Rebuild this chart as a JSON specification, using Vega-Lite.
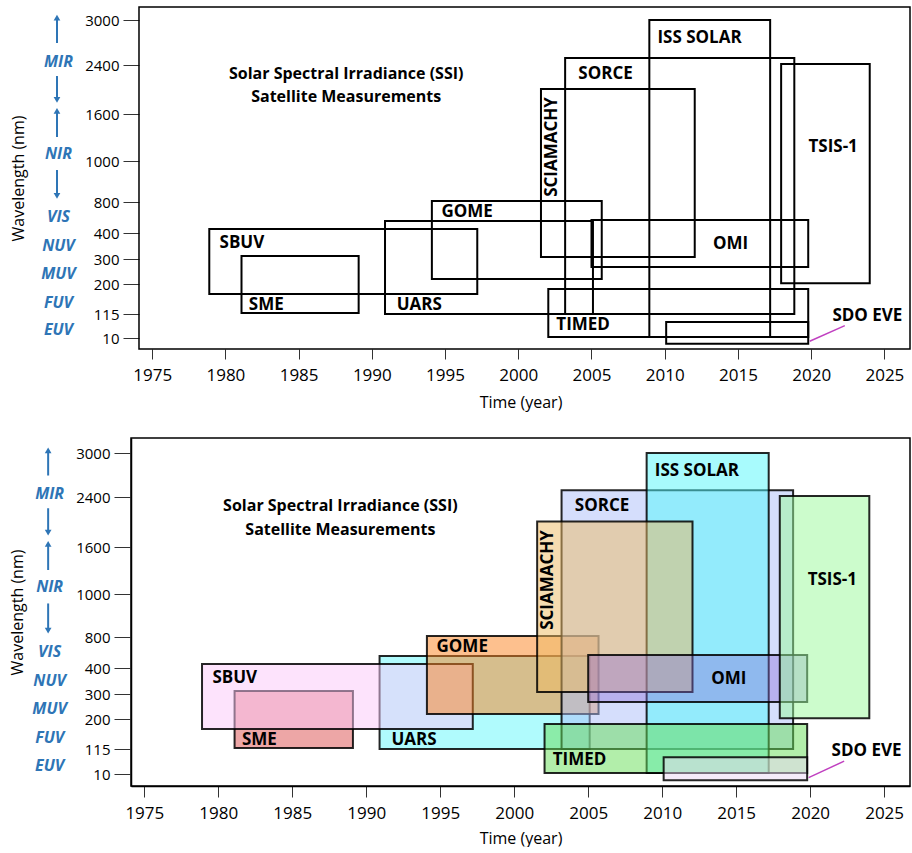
{
  "$schema": "https://vega.github.io/schema/vega-lite/v6.json",
  "padding": {"left": 8, "top": 6, "right": 0, "bottom": 0},
  "config": {
    "view": {"stroke": "black", "strokeWidth": 1.5},
    "font": "Open Sans",
    "axis": {"grid": false, "domainColor": "black", "domainWidth": 1.5, "tickColor": "#333", "labelColor": "black", "titleColor": "black", "titleFontWeight": "normal", "labelFont": "Open Sans", "titleFont": "Open Sans", "labelOverlap": false, "labelFlush": false, "tickCount": 30}
  },
  "datasets": {
    "rects": [
      {"name": "UARS", "start": 1990.9, "end": 2005.1, "lo": 115, "hi": 555},
      {"name": "SME", "start": 1981.1, "end": 1989.1, "lo": 118, "hi": 312},
      {"name": "SBUV", "start": 1978.9, "end": 1997.2, "lo": 172, "hi": 451},
      {"name": "GOME", "start": 1994.1, "end": 2005.7, "lo": 220, "hi": 805},
      {"name": "SORCE", "start": 2003.2, "end": 2018.85, "lo": 115, "hi": 2493},
      {"name": "ISS SOLAR", "start": 2008.95, "end": 2017.2, "lo": 14, "hi": 3000},
      {"name": "SCIAMACHY", "start": 2001.55, "end": 2012.05, "lo": 308, "hi": 2008},
      {"name": "TIMED", "start": 2002.05, "end": 2019.8, "lo": 14, "hi": 186},
      {"name": "OMI", "start": 2005.0, "end": 2019.8, "lo": 268, "hi": 568},
      {"name": "TSIS-1", "start": 2017.95, "end": 2024.0, "lo": 203, "hi": 2413},
      {"name": "SDO EVE", "start": 2010.1, "end": 2019.8, "lo": -16, "hi": 80}
    ],
    "labelsLeft": [
      {"label": "SBUV", "year": 1979.6, "nm": 362},
      {"label": "SME", "year": 1981.6, "nm": 140},
      {"label": "UARS", "year": 1991.7, "nm": 140},
      {"label": "GOME", "year": 1994.75, "nm": 671},
      {"label": "SORCE", "year": 2004.1, "nm": 2253},
      {"label": "ISS SOLAR", "year": 2009.5, "nm": 2760},
      {"label": "TIMED", "year": 2002.6, "nm": 67},
      {"label": "SDO EVE", "year": 2021.45, "nm": 106}
    ],
    "labelsCenter": [
      {"label": "OMI", "year": 2014.5, "nm": 358},
      {"label": "TSIS-1", "year": 2021.5, "nm": 1179}
    ],
    "labelsRot": [
      {"label": "SCIAMACHY", "year": 2002.3, "nm": 1179}
    ],
    "titles": [
      {"label": "Solar Spectral Irradiance (SSI)", "year": 1988.25, "nm": 2253},
      {"label": "Satellite Measurements", "year": 1988.25, "nm": 1878}
    ],
    "leader": [
      {"year": 2019.9, "year2": 2022.3, "nm": -5, "nm2": 64}
    ],
    "bands": [
      {"label": "MIR", "year": 1968.6, "nm": 2440},
      {"label": "NIR", "year": 1968.6, "nm": 1089},
      {"label": "VIS", "year": 1968.6, "nm": 606},
      {"label": "NUV", "year": 1968.6, "nm": 350},
      {"label": "MUV", "year": 1968.6, "nm": 240},
      {"label": "FUV", "year": 1968.6, "nm": 146},
      {"label": "EUV", "year": 1968.6, "nm": 45}
    ],
    "arrows": [
      {"year": 1968.5, "nm": 2693, "nm2": 3030},
      {"year": 1968.5, "nm": 2220, "nm2": 1830},
      {"year": 1968.5, "nm": 1306, "nm2": 1650},
      {"year": 1968.5, "nm": 956, "nm2": 830}
    ],
    "headsUp": [
      {"year": 1968.5, "nm": 3030},
      {"year": 1968.5, "nm": 1650}
    ],
    "headsDown": [
      {"year": 1968.5, "nm": 1830},
      {"year": 1968.5, "nm": 830}
    ]
  },
  "vconcat": [
    {
      "width": 779,
      "height": 342,
      "view": {"stroke": null},
      "layer": [
        {
          "data": {"name": "rects"},
          "mark": {"type": "rect", "fillOpacity": 0, "stroke": "black", "strokeWidth": 2},
          "encoding": {
            "x": {"field": "start", "type": "quantitative", "title": "Time (year)", "scale": {"domain": [1973.554, 2026.75], "nice": false, "zero": false},
              "axis": {"title": "Time (year)", "values": [1975, 1980, 1985, 1990, 1995, 2000, 2005, 2010, 2015, 2020, 2025], "format": "d", "domain": false, "tickCount": 30, "tickSize": 10, "labelPadding": 8, "labelFontSize": 17, "titleFontSize": 16, "titlePadding": 11}},
            "x2": {"field": "end"},
            "y": {"field": "lo", "type": "quantitative", "title": "Wavelength (nm)", "scale": {"domain": [-40, 10, 115, 200, 300, 400, 800, 1000, 1600, 2400, 3000, 3170], "range": [342, 331, 307, 277, 252, 226, 195, 154, 107, 58, 13, 0], "nice": false, "zero": false},
              "axis": {"title": "Wavelength (nm)", "values": [10, 115, 200, 300, 400, 800, 1000, 1600, 2400, 3000], "format": "d", "domain": false, "offset": -8, "tickCount": 30, "labelOverlap": false, "tickSize": 16, "labelPadding": 4, "labelFontSize": 15, "titleFontSize": 16, "titlePadding": 58}},
            "y2": {"field": "hi"}
          }
        },
        {
          "data": {"values": [{}]},
          "mark": {"type": "rect", "fillOpacity": 0, "stroke": "black", "strokeWidth": 1.5},
          "encoding": {
            "x": {"datum": 1974.1, "type": "quantitative", "title": "Time (year)", "scale": {"domain": [1973.554, 2026.75], "nice": false, "zero": false}},
            "x2": {"datum": 2026.75},
            "y": {"datum": -40, "type": "quantitative", "title": "Wavelength (nm)", "scale": {"domain": [-40, 10, 115, 200, 300, 400, 800, 1000, 1600, 2400, 3000, 3170], "range": [342, 331, 307, 277, 252, 226, 195, 154, 107, 58, 13, 0], "nice": false, "zero": false}},
            "y2": {"datum": 3170}
          }
        },
        {
          "data": {"name": "titles"},
          "mark": {"type": "text", "font": "Open Sans", "fontWeight": "bold", "fontSize": 16, "align": "center", "baseline": "middle"},
          "encoding": {
            "x": {"field": "year", "type": "quantitative", "title": "Time (year)", "scale": {"domain": [1973.554, 2026.75], "nice": false, "zero": false}},
            "y": {"field": "nm", "type": "quantitative", "title": "Wavelength (nm)", "scale": {"domain": [-40, 10, 115, 200, 300, 400, 800, 1000, 1600, 2400, 3000, 3170], "range": [342, 331, 307, 277, 252, 226, 195, 154, 107, 58, 13, 0], "nice": false, "zero": false}},
            "text": {"field": "label"}
          }
        },
        {
          "data": {"name": "labelsLeft"},
          "mark": {"type": "text", "font": "Open Sans", "fontWeight": "bold", "fontSize": 17, "align": "left", "baseline": "middle"},
          "encoding": {
            "x": {"field": "year", "type": "quantitative", "title": "Time (year)", "scale": {"domain": [1973.554, 2026.75], "nice": false, "zero": false}},
            "y": {"field": "nm", "type": "quantitative", "title": "Wavelength (nm)", "scale": {"domain": [-40, 10, 115, 200, 300, 400, 800, 1000, 1600, 2400, 3000, 3170], "range": [342, 331, 307, 277, 252, 226, 195, 154, 107, 58, 13, 0], "nice": false, "zero": false}},
            "text": {"field": "label"}
          }
        },
        {
          "data": {"name": "labelsCenter"},
          "mark": {"type": "text", "font": "Open Sans", "fontWeight": "bold", "fontSize": 17, "align": "center", "baseline": "middle"},
          "encoding": {
            "x": {"field": "year", "type": "quantitative", "title": "Time (year)", "scale": {"domain": [1973.554, 2026.75], "nice": false, "zero": false}},
            "y": {"field": "nm", "type": "quantitative", "title": "Wavelength (nm)", "scale": {"domain": [-40, 10, 115, 200, 300, 400, 800, 1000, 1600, 2400, 3000, 3170], "range": [342, 331, 307, 277, 252, 226, 195, 154, 107, 58, 13, 0], "nice": false, "zero": false}},
            "text": {"field": "label"}
          }
        },
        {
          "data": {"name": "labelsRot"},
          "mark": {"type": "text", "font": "Open Sans", "fontWeight": "bold", "fontSize": 17, "align": "center", "baseline": "middle", "angle": 270},
          "encoding": {
            "x": {"field": "year", "type": "quantitative", "title": "Time (year)", "scale": {"domain": [1973.554, 2026.75], "nice": false, "zero": false}},
            "y": {"field": "nm", "type": "quantitative", "title": "Wavelength (nm)", "scale": {"domain": [-40, 10, 115, 200, 300, 400, 800, 1000, 1600, 2400, 3000, 3170], "range": [342, 331, 307, 277, 252, 226, 195, 154, 107, 58, 13, 0], "nice": false, "zero": false}},
            "text": {"field": "label"}
          }
        },
        {
          "data": {"name": "leader"},
          "mark": {"type": "rule", "color": "#c040c0", "strokeWidth": 1.5},
          "encoding": {
            "x": {"field": "year", "type": "quantitative", "title": "Time (year)", "scale": {"domain": [1973.554, 2026.75], "nice": false, "zero": false}},
            "x2": {"field": "year2"},
            "y": {"field": "nm", "type": "quantitative", "title": "Wavelength (nm)", "scale": {"domain": [-40, 10, 115, 200, 300, 400, 800, 1000, 1600, 2400, 3000, 3170], "range": [342, 331, 307, 277, 252, 226, 195, 154, 107, 58, 13, 0], "nice": false, "zero": false}},
            "y2": {"field": "nm2"}
          }
        },
        {
          "data": {"name": "bands"},
          "mark": {"type": "text", "font": "Open Sans", "fontWeight": "bold", "fontStyle": "italic", "fontSize": 16, "align": "center", "baseline": "middle", "color": "#2e75b6"},
          "encoding": {
            "x": {"field": "year", "type": "quantitative", "title": "Time (year)", "scale": {"domain": [1973.554, 2026.75], "nice": false, "zero": false}},
            "y": {"field": "nm", "type": "quantitative", "title": "Wavelength (nm)", "scale": {"domain": [-40, 10, 115, 200, 300, 400, 800, 1000, 1600, 2400, 3000, 3170], "range": [342, 331, 307, 277, 252, 226, 195, 154, 107, 58, 13, 0], "nice": false, "zero": false}},
            "text": {"field": "label"}
          }
        },
        {
          "data": {"name": "arrows"},
          "mark": {"type": "rule", "color": "#2e75b6", "strokeWidth": 2},
          "encoding": {
            "x": {"field": "year", "type": "quantitative", "title": "Time (year)", "scale": {"domain": [1973.554, 2026.75], "nice": false, "zero": false}},
            "y": {"field": "nm", "type": "quantitative", "title": "Wavelength (nm)", "scale": {"domain": [-40, 10, 115, 200, 300, 400, 800, 1000, 1600, 2400, 3000, 3170], "range": [342, 331, 307, 277, 252, 226, 195, 154, 107, 58, 13, 0], "nice": false, "zero": false}},
            "y2": {"field": "nm2"}
          }
        },
        {
          "data": {"name": "headsUp"},
          "mark": {"type": "point", "shape": "triangle-up", "filled": true, "size": 45, "color": "#2e75b6", "opacity": 1},
          "encoding": {
            "x": {"field": "year", "type": "quantitative", "title": "Time (year)", "scale": {"domain": [1973.554, 2026.75], "nice": false, "zero": false}},
            "y": {"field": "nm", "type": "quantitative", "title": "Wavelength (nm)", "scale": {"domain": [-40, 10, 115, 200, 300, 400, 800, 1000, 1600, 2400, 3000, 3170], "range": [342, 331, 307, 277, 252, 226, 195, 154, 107, 58, 13, 0], "nice": false, "zero": false}}
          }
        },
        {
          "data": {"name": "headsDown"},
          "mark": {"type": "point", "shape": "triangle-down", "filled": true, "size": 45, "color": "#2e75b6", "opacity": 1},
          "encoding": {
            "x": {"field": "year", "type": "quantitative", "title": "Time (year)", "scale": {"domain": [1973.554, 2026.75], "nice": false, "zero": false}},
            "y": {"field": "nm", "type": "quantitative", "title": "Wavelength (nm)", "scale": {"domain": [-40, 10, 115, 200, 300, 400, 800, 1000, 1600, 2400, 3000, 3170], "range": [342, 331, 307, 277, 252, 226, 195, 154, 107, 58, 13, 0], "nice": false, "zero": false}}
          }
        }
      ]
    },
    {
      "width": 779,
      "height": 348,
      "layer": [
        {
          "data": {"name": "rects"},
          "mark": {"type": "rect", "stroke": "black", "strokeWidth": 2, "strokeOpacity": 0.85},
          "encoding": {
            "x": {"field": "start", "type": "quantitative", "title": "Time (year)", "scale": {"domain": [1974.1, 2026.75], "nice": false, "zero": false},
              "axis": {"title": "Time (year)", "values": [1975, 1980, 1985, 1990, 1995, 2000, 2005, 2010, 2015, 2020, 2025], "format": "d", "tickCount": 30, "tickSize": 11, "labelPadding": 8, "labelFontSize": 17, "titleFontSize": 16, "titlePadding": 9}},
            "x2": {"field": "end"},
            "y": {"field": "lo", "type": "quantitative", "title": "Wavelength (nm)", "scale": {"domain": [-40, 10, 115, 200, 300, 400, 800, 1000, 1600, 2400, 3000, 3170], "range": [348, 336, 311, 281, 256, 230, 199, 156, 109, 59, 15, 0], "nice": false, "zero": false},
              "axis": {"title": "Wavelength (nm)", "values": [10, 115, 200, 300, 400, 800, 1000, 1600, 2400, 3000], "format": "d", "tickCount": 30, "labelOverlap": false, "tickSize": 17, "labelPadding": 4, "labelFontSize": 15, "titleFontSize": 16, "titlePadding": 50}},
            "y2": {"field": "hi"},
            "color": {"field": "name", "type": "nominal", "legend": null,
              "scale": {"domain": ["UARS", "SME", "SBUV", "GOME", "SORCE", "ISS SOLAR", "SCIAMACHY", "TIMED", "OMI", "TSIS-1", "SDO EVE"],
                        "range": ["#61f7fb", "#db4d4d", "#fbc7f9", "#fb811d", "#abbdf9", "#51f7fb", "#edb961", "#65dd55", "#8a6ad7", "#99f999", "#ebd7f5"]}},
            "fillOpacity": {"condition": {"test": "datum.name === 'OMI'", "value": 0.38}, "value": 0.5}
          }
        },
        {
          "data": {"name": "titles"},
          "mark": {"type": "text", "font": "Open Sans", "fontWeight": "bold", "fontSize": 16, "align": "center", "baseline": "middle"},
          "encoding": {
            "x": {"field": "year", "type": "quantitative", "title": "Time (year)", "scale": {"domain": [1974.1, 2026.75], "nice": false, "zero": false}},
            "y": {"field": "nm", "type": "quantitative", "title": "Wavelength (nm)", "scale": {"domain": [-40, 10, 115, 200, 300, 400, 800, 1000, 1600, 2400, 3000, 3170], "range": [348, 336, 311, 281, 256, 230, 199, 156, 109, 59, 15, 0], "nice": false, "zero": false}},
            "text": {"field": "label"}
          }
        },
        {
          "data": {"name": "labelsLeft"},
          "mark": {"type": "text", "font": "Open Sans", "fontWeight": "bold", "fontSize": 17, "align": "left", "baseline": "middle"},
          "encoding": {
            "x": {"field": "year", "type": "quantitative", "title": "Time (year)", "scale": {"domain": [1974.1, 2026.75], "nice": false, "zero": false}},
            "y": {"field": "nm", "type": "quantitative", "title": "Wavelength (nm)", "scale": {"domain": [-40, 10, 115, 200, 300, 400, 800, 1000, 1600, 2400, 3000, 3170], "range": [348, 336, 311, 281, 256, 230, 199, 156, 109, 59, 15, 0], "nice": false, "zero": false}},
            "text": {"field": "label"}
          }
        },
        {
          "data": {"name": "labelsCenter"},
          "mark": {"type": "text", "font": "Open Sans", "fontWeight": "bold", "fontSize": 17, "align": "center", "baseline": "middle"},
          "encoding": {
            "x": {"field": "year", "type": "quantitative", "title": "Time (year)", "scale": {"domain": [1974.1, 2026.75], "nice": false, "zero": false}},
            "y": {"field": "nm", "type": "quantitative", "title": "Wavelength (nm)", "scale": {"domain": [-40, 10, 115, 200, 300, 400, 800, 1000, 1600, 2400, 3000, 3170], "range": [348, 336, 311, 281, 256, 230, 199, 156, 109, 59, 15, 0], "nice": false, "zero": false}},
            "text": {"field": "label"}
          }
        },
        {
          "data": {"name": "labelsRot"},
          "mark": {"type": "text", "font": "Open Sans", "fontWeight": "bold", "fontSize": 17, "align": "center", "baseline": "middle", "angle": 270},
          "encoding": {
            "x": {"field": "year", "type": "quantitative", "title": "Time (year)", "scale": {"domain": [1974.1, 2026.75], "nice": false, "zero": false}},
            "y": {"field": "nm", "type": "quantitative", "title": "Wavelength (nm)", "scale": {"domain": [-40, 10, 115, 200, 300, 400, 800, 1000, 1600, 2400, 3000, 3170], "range": [348, 336, 311, 281, 256, 230, 199, 156, 109, 59, 15, 0], "nice": false, "zero": false}},
            "text": {"field": "label"}
          }
        },
        {
          "data": {"name": "leader"},
          "mark": {"type": "rule", "color": "#c040c0", "strokeWidth": 1.5},
          "encoding": {
            "x": {"field": "year", "type": "quantitative", "title": "Time (year)", "scale": {"domain": [1974.1, 2026.75], "nice": false, "zero": false}},
            "x2": {"field": "year2"},
            "y": {"field": "nm", "type": "quantitative", "title": "Wavelength (nm)", "scale": {"domain": [-40, 10, 115, 200, 300, 400, 800, 1000, 1600, 2400, 3000, 3170], "range": [348, 336, 311, 281, 256, 230, 199, 156, 109, 59, 15, 0], "nice": false, "zero": false}},
            "y2": {"field": "nm2"}
          }
        },
        {
          "data": {"name": "bands"},
          "mark": {"type": "text", "font": "Open Sans", "fontWeight": "bold", "fontStyle": "italic", "fontSize": 16, "align": "center", "baseline": "middle", "color": "#2e75b6"},
          "encoding": {
            "x": {"field": "year", "type": "quantitative", "title": "Time (year)", "scale": {"domain": [1974.1, 2026.75], "nice": false, "zero": false}},
            "y": {"field": "nm", "type": "quantitative", "title": "Wavelength (nm)", "scale": {"domain": [-40, 10, 115, 200, 300, 400, 800, 1000, 1600, 2400, 3000, 3170], "range": [348, 336, 311, 281, 256, 230, 199, 156, 109, 59, 15, 0], "nice": false, "zero": false}},
            "text": {"field": "label"}
          }
        },
        {
          "data": {"name": "arrows"},
          "mark": {"type": "rule", "color": "#2e75b6", "strokeWidth": 2},
          "encoding": {
            "x": {"field": "year", "type": "quantitative", "title": "Time (year)", "scale": {"domain": [1974.1, 2026.75], "nice": false, "zero": false}},
            "y": {"field": "nm", "type": "quantitative", "title": "Wavelength (nm)", "scale": {"domain": [-40, 10, 115, 200, 300, 400, 800, 1000, 1600, 2400, 3000, 3170], "range": [348, 336, 311, 281, 256, 230, 199, 156, 109, 59, 15, 0], "nice": false, "zero": false}},
            "y2": {"field": "nm2"}
          }
        },
        {
          "data": {"name": "headsUp"},
          "mark": {"type": "point", "shape": "triangle-up", "filled": true, "size": 45, "color": "#2e75b6", "opacity": 1},
          "encoding": {
            "x": {"field": "year", "type": "quantitative", "title": "Time (year)", "scale": {"domain": [1974.1, 2026.75], "nice": false, "zero": false}},
            "y": {"field": "nm", "type": "quantitative", "title": "Wavelength (nm)", "scale": {"domain": [-40, 10, 115, 200, 300, 400, 800, 1000, 1600, 2400, 3000, 3170], "range": [348, 336, 311, 281, 256, 230, 199, 156, 109, 59, 15, 0], "nice": false, "zero": false}}
          }
        },
        {
          "data": {"name": "headsDown"},
          "mark": {"type": "point", "shape": "triangle-down", "filled": true, "size": 45, "color": "#2e75b6", "opacity": 1},
          "encoding": {
            "x": {"field": "year", "type": "quantitative", "title": "Time (year)", "scale": {"domain": [1974.1, 2026.75], "nice": false, "zero": false}},
            "y": {"field": "nm", "type": "quantitative", "title": "Wavelength (nm)", "scale": {"domain": [-40, 10, 115, 200, 300, 400, 800, 1000, 1600, 2400, 3000, 3170], "range": [348, 336, 311, 281, 256, 230, 199, 156, 109, 59, 15, 0], "nice": false, "zero": false}}
          }
        }
      ]
    }
  ],
  "spacing": 27,
  "resolve": {"scale": {"x": "independent", "y": "independent"}}
}
